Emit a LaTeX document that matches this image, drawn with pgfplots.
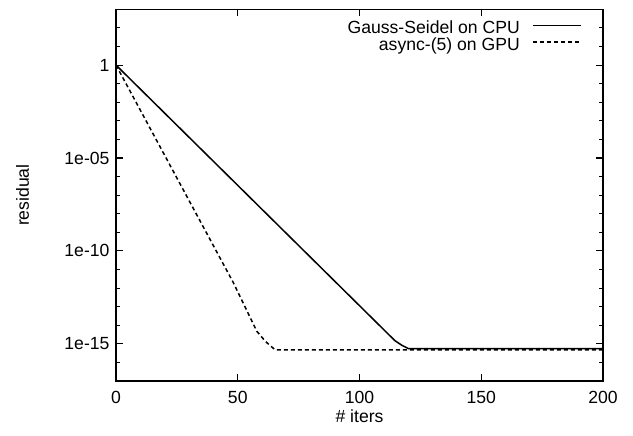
\documentclass[border=0pt]{standalone}
\usepackage{fontspec}
\setmainfont{Liberation Sans}
\usepackage{pgfplots}
\pgfplotsset{compat=1.18}
\usetikzlibrary{calc}
\newcommand{\fs}{\fontsize{17.6}{20}\selectfont}
\begin{document}
\begin{tikzpicture}[font=\fs]
\begin{axis}[
  name=ax,
  scale only axis,
  width=487pt, height=371.7pt,
  ymode=log,
  xmin=0, xmax=200,
  ymin=1e-17, ymax=1e3,
  xtick={0,50,100,150,200},
  ytick={1,1e-5,1e-10,1e-15},
  yticklabels={1,1e-05,1e-10,1e-15},
  minor ytick={1e2,1e1,1e-1,1e-2,1e-3,1e-4,1e-6,1e-7,1e-8,1e-9,1e-11,1e-12,1e-13,1e-14,1e-16},
  /pgf/number format/assume math mode=true,
  tick align=inside,
  major tick length=7pt,
  minor tick length=4pt,
  tick style={black, line width=1.1pt},
  axis line style={line width=1.6pt},
  tick label style={font=\fs},
  xticklabel style={yshift=-7pt},
  yticklabel style={xshift=-3pt},
  xlabel={\# iters},
  ylabel={residual},
  every axis x label/.style={at={(axis description cs:0.5,-0.096)}, anchor=center, font=\fs},
  every axis y label/.style={at={(axis description cs:-0.192,0.5)}, anchor=center, rotate=90, font=\fs},
  legend style={draw=none, fill=none, at={(1,1)}, anchor=north east, xshift=-18pt, yshift=-9.5pt, font=\fs, row sep=0pt, column sep=12pt, inner ysep=2pt,
    nodes={text height=12pt, text depth=3.5pt, inner sep=0.5pt}},
  legend cell align=right,
  legend plot pos=right,
  legend image code/.code={\draw[#1] (0pt,4pt) -- (48pt,4pt);},
]
\addplot[black, line width=1.5pt] coordinates {
  (0,1) (114.5,1.5e-15) (117.3,8.5e-16) (120,5.6e-16) (200,5.6e-16)
};
\addlegendentry{Gauss-Seidel on CPU}
\addplot[black, line width=1.5pt, dash pattern=on 4pt off 3pt] coordinates {
  (0,1) (48.2,1.95e-12) (57.8,4.8e-15) (61.5,1.3e-15) (65.3,4.8e-16) (200,4.8e-16)
};
\addlegendentry{async-(5) on GPU}
\end{axis}
\pgfresetboundingbox
\path[use as bounding box] ($(ax.south west)+(-116pt,-54pt)$) rectangle ($(ax.north east)+(30pt,9.3pt)$);
\end{tikzpicture}
\end{document}
